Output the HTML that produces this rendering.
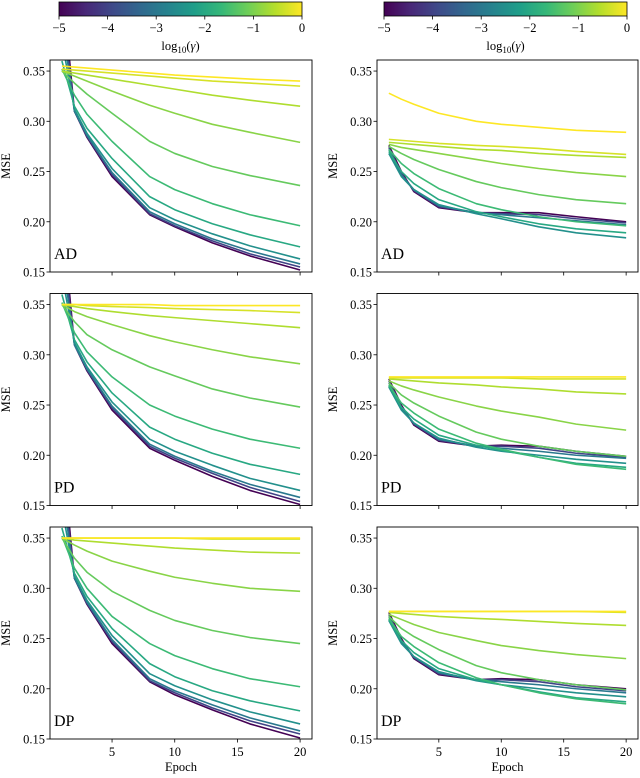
<!DOCTYPE html>
<html><head><meta charset="utf-8"><style>
html,body{margin:0;padding:0;background:#fff;}
svg{display:block;font-family:"Liberation Serif",serif;}
</style></head><body>
<svg id="fig" width="640" height="778" viewBox="0 0 640 778" xmlns="http://www.w3.org/2000/svg"></svg>
<script>
const epochs = [1,2,3,5,8,10,13,16,20];
const gammas = [0,-0.3,-0.6,-0.9,-1.2,-1.6,-2.0,-2.5,-3,-4,-5];
const yTicks = [0.15,0.20,0.25,0.30,0.35];
const yTickLabels = ["0.15","0.20","0.25","0.30","0.35"];
const xTicks = [5,10,15,20];
const cbTicks = [-5,-4,-3,-2,-1,0];
const cbTickLabels = ["\u22125","\u22124","\u22123","\u22122","\u22121","0"];
const panelLabels = ["AD","PD","DP"];

const leftAD = [
 [0.355,0.354,0.353,0.351,0.348,0.346,0.344,0.342,0.340],
 [0.352,0.351,0.350,0.348,0.345,0.343,0.340,0.338,0.335],
 [0.350,0.348,0.346,0.342,0.336,0.332,0.326,0.321,0.315],
 [0.350,0.345,0.340,0.330,0.316,0.308,0.297,0.289,0.279],
 [0.350,0.338,0.327,0.308,0.280,0.268,0.255,0.246,0.236],
 [0.352,0.326,0.307,0.280,0.245,0.232,0.218,0.207,0.196],
 [0.360,0.315,0.293,0.263,0.225,0.212,0.198,0.187,0.175],
 [0.380,0.312,0.288,0.253,0.214,0.202,0.188,0.176,0.163],
 [0.400,0.310,0.286,0.249,0.210,0.198,0.183,0.171,0.158],
 [0.420,0.310,0.285,0.247,0.208,0.196,0.181,0.168,0.155],
 [0.440,0.310,0.284,0.245,0.207,0.195,0.179,0.166,0.152]];
const leftPD = [
 [0.350,0.350,0.350,0.350,0.350,0.349,0.349,0.349,0.349],
 [0.350,0.350,0.349,0.348,0.347,0.346,0.345,0.344,0.342],
 [0.350,0.348,0.346,0.343,0.339,0.337,0.334,0.331,0.327],
 [0.350,0.343,0.338,0.330,0.319,0.313,0.305,0.298,0.291],
 [0.350,0.333,0.320,0.305,0.288,0.279,0.266,0.257,0.248],
 [0.352,0.322,0.303,0.278,0.250,0.239,0.226,0.216,0.207],
 [0.360,0.315,0.293,0.262,0.228,0.216,0.202,0.191,0.181],
 [0.380,0.312,0.288,0.253,0.216,0.204,0.190,0.177,0.165],
 [0.400,0.310,0.286,0.249,0.211,0.199,0.184,0.171,0.158],
 [0.420,0.310,0.285,0.247,0.209,0.197,0.182,0.168,0.154],
 [0.440,0.310,0.284,0.245,0.207,0.195,0.179,0.165,0.151]];
const leftDP = [
 [0.350,0.350,0.350,0.350,0.350,0.350,0.350,0.350,0.350],
 [0.350,0.350,0.350,0.350,0.350,0.350,0.349,0.349,0.349],
 [0.350,0.348,0.347,0.345,0.342,0.340,0.338,0.336,0.335],
 [0.350,0.343,0.337,0.327,0.317,0.311,0.305,0.300,0.297],
 [0.350,0.330,0.316,0.297,0.278,0.268,0.258,0.251,0.245],
 [0.352,0.320,0.300,0.272,0.245,0.233,0.220,0.210,0.202],
 [0.360,0.315,0.292,0.260,0.225,0.212,0.198,0.188,0.178],
 [0.380,0.312,0.288,0.253,0.215,0.203,0.189,0.177,0.165],
 [0.400,0.310,0.286,0.249,0.210,0.198,0.184,0.171,0.158],
 [0.420,0.310,0.285,0.247,0.208,0.196,0.181,0.168,0.155],
 [0.440,0.310,0.284,0.245,0.207,0.194,0.179,0.165,0.151]];
const rightAD = [
 [0.328,0.322,0.317,0.308,0.300,0.297,0.294,0.291,0.289],
 [0.282,0.281,0.280,0.278,0.276,0.275,0.273,0.270,0.267],
 [0.279,0.278,0.277,0.275,0.272,0.271,0.268,0.266,0.264],
 [0.277,0.274,0.272,0.268,0.262,0.258,0.253,0.249,0.245],
 [0.275,0.268,0.262,0.252,0.240,0.234,0.227,0.222,0.218],
 [0.272,0.258,0.248,0.233,0.218,0.212,0.205,0.200,0.196],
 [0.270,0.250,0.238,0.222,0.210,0.205,0.198,0.193,0.189],
 [0.268,0.245,0.232,0.217,0.208,0.203,0.195,0.189,0.184],
 [0.272,0.247,0.232,0.216,0.209,0.207,0.204,0.201,0.197],
 [0.274,0.248,0.231,0.215,0.209,0.208,0.207,0.203,0.199],
 [0.276,0.250,0.230,0.214,0.209,0.209,0.209,0.205,0.200]];
const rightPD = [
 [0.278,0.278,0.278,0.278,0.278,0.278,0.278,0.278,0.278],
 [0.277,0.277,0.277,0.277,0.277,0.277,0.276,0.276,0.276],
 [0.276,0.275,0.274,0.272,0.270,0.268,0.266,0.263,0.261],
 [0.274,0.269,0.265,0.258,0.249,0.244,0.238,0.231,0.225],
 [0.272,0.260,0.252,0.239,0.223,0.216,0.209,0.204,0.199],
 [0.270,0.252,0.242,0.226,0.212,0.206,0.198,0.191,0.186],
 [0.269,0.248,0.236,0.220,0.210,0.205,0.198,0.192,0.188],
 [0.268,0.245,0.232,0.217,0.208,0.204,0.200,0.196,0.192],
 [0.272,0.247,0.232,0.216,0.209,0.207,0.204,0.200,0.197],
 [0.274,0.248,0.231,0.215,0.209,0.209,0.207,0.202,0.198],
 [0.276,0.250,0.230,0.214,0.209,0.210,0.209,0.204,0.199]];
const rightDP = [
 [0.277,0.277,0.277,0.277,0.277,0.277,0.277,0.277,0.277],
 [0.277,0.277,0.277,0.277,0.277,0.277,0.277,0.277,0.276],
 [0.276,0.275,0.274,0.272,0.270,0.269,0.267,0.265,0.263],
 [0.274,0.269,0.264,0.256,0.248,0.243,0.238,0.234,0.230],
 [0.272,0.260,0.252,0.239,0.223,0.216,0.209,0.204,0.199],
 [0.270,0.252,0.242,0.226,0.211,0.204,0.196,0.190,0.185],
 [0.269,0.248,0.236,0.220,0.209,0.204,0.197,0.191,0.187],
 [0.268,0.245,0.232,0.217,0.208,0.204,0.200,0.196,0.192],
 [0.272,0.247,0.232,0.216,0.209,0.207,0.204,0.200,0.196],
 [0.274,0.248,0.231,0.215,0.209,0.209,0.207,0.202,0.198],
 [0.276,0.250,0.230,0.214,0.209,0.210,0.209,0.204,0.200]];

const NS = "http://www.w3.org/2000/svg";
const svg = document.getElementById('fig');
const VIR = [[68,1,84],[72,40,120],[62,74,137],[49,104,142],[38,130,142],[31,158,137],[53,183,121],[110,206,88],[181,222,43],[253,231,37]];
function viridis(t){t=Math.max(0,Math.min(1,t));const f=t*(VIR.length-1);const i=Math.min(VIR.length-2,Math.floor(f));const u=f-i;const c=VIR[i].map((v,k)=>Math.round(v+(VIR[i+1][k]-v)*u));return `rgb(${c[0]},${c[1]},${c[2]})`;}
function mk(tag,attrs,parent){const e=document.createElementNS(NS,tag);for(const k in attrs)e.setAttribute(k,attrs[k]);(parent||svg).appendChild(e);return e;}

const defs = mk('defs',{});
const grad = mk('linearGradient',{id:'vir',x1:'0',x2:'1',y1:'0',y2:'0'},defs);
for(let i=0;i<VIR.length;i++){mk('stop',{offset:(i/(VIR.length-1)),'stop-color':viridis(i/(VIR.length-1))},grad);}

[[59,302],[384,627]].forEach((cb,ci)=>{
  const g = mk('g',{});
  
  
  mk('rect',{x:cb[0],y:2,width:cb[1]-cb[0],height:14,fill:'url(#vir)',stroke:'#000','stroke-width':0.8},g);
  cbTicks.forEach((v,i)=>{
    const x = cb[0]+(v+5)/5*(cb[1]-cb[0]);
    mk('line',{x1:x,x2:x,y1:16,y2:19.5,stroke:'#000','stroke-width':0.8},g);
    const t = mk('text',{x:x,y:32,'font-size':12.5,'text-anchor':'middle'},g);
    t.textContent = cbTickLabels[i];
    
    
  });
  const lbl = mk('text',{x:(cb[0]+cb[1])/2,y:50,'font-size':12.5,'text-anchor':'middle'},g);
  lbl.innerHTML = 'log<tspan font-size="9" dy="3">10</tspan><tspan dy="-3">(</tspan><tspan font-style="italic">γ</tspan>)';
  
  
});

const rowsTop = [60,293.5,527];
const H = 212;
const cols = [{x0:50,w:262},{x0:377,w:261}];
const data = [[leftAD,rightAD],[leftPD,rightPD],[leftDP,rightDP]];
const YMIN=0.15, YMAX=0.361, XMIN=0.05, XMAX=20.95;

rowsTop.forEach((top,r)=>{
  cols.forEach((c,ci)=>{
    const xs = e=> c.x0+(e-XMIN)/(XMAX-XMIN)*c.w;
    const ys = v=> top+H-(v-YMIN)/(YMAX-YMIN)*H;
    const g = mk('g',{});
    
    
    const cid='clip'+r+ci;
    const cp = mk('clipPath',{id:cid},defs);
    mk('rect',{x:c.x0,y:top,width:c.w,height:H},cp);
    const lg = mk('g',{'clip-path':`url(#${cid})`},g);
    const series = data[r][ci];
    for(let s=series.length-1;s>=0;s--){
      const pts = series[s].map((v,i)=>xs(epochs[i]).toFixed(2)+','+ys(v).toFixed(2)).join(' ');
      const pl = mk('polyline',{points:pts,fill:'none',stroke:viridis((gammas[s]+5)/5),'stroke-width':1.6,'stroke-linejoin':'round'},lg);
      
      
    }
    mk('rect',{x:c.x0,y:top,width:c.w,height:H,fill:'none',stroke:'#000','stroke-width':0.9},g);
    yTicks.forEach((v,i)=>{
      const y=ys(v);
      mk('line',{x1:c.x0-3.5,x2:c.x0,y1:y,y2:y,stroke:'#000','stroke-width':0.8},g);
      const t=mk('text',{x:c.x0-5,y:y+4.5,'font-size':12.5,'text-anchor':'end'},g);
      t.textContent=yTickLabels[i];
      
      
    });
    xTicks.forEach(v=>{
      const x=xs(v);
      mk('line',{x1:x,x2:x,y1:top+H,y2:top+H+3.5,stroke:'#000','stroke-width':0.8},g);
      if(r===2){
        const t=mk('text',{x:x,y:top+H+17,'font-size':12.5,'text-anchor':'middle'},g);
        t.textContent=String(v);
        
        
      }
    });
    const yl=mk('text',{x:0,y:0,'font-size':12.5,'text-anchor':'middle',transform:`translate(${c.x0-40},${top+H/2}) rotate(-90)`},g);
    yl.textContent='MSE';
    
    
    const pl=mk('text',{x:c.x0+4,y:top+H-13,'font-size':16},g);
    pl.textContent=panelLabels[r];
    
    
    if(r===2){
      const xl=mk('text',{x:c.x0+c.w/2,y:top+H+32,'font-size':12.5,'text-anchor':'middle'},g);
      xl.textContent='Epoch';
      
      
    }
  });
});
</script>
</body></html>
